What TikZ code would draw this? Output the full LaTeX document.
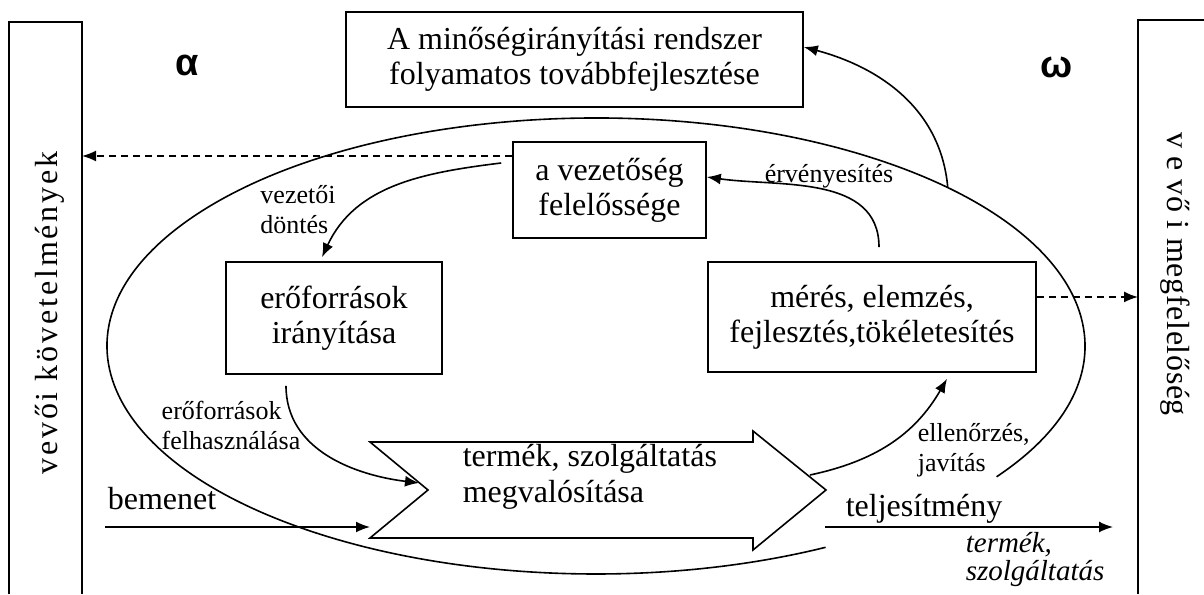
\documentclass[tikz,border=0pt]{standalone}
\usepackage{fontspec}
\setmainfont{Liberation Serif}
\newfontfamily\greekfont{Liberation Sans}
\newfontfamily\spacedfont[LetterSpace=9]{Liberation Serif}
\newfontfamily\widefont[LetterSpace=2]{Liberation Serif}
\usetikzlibrary{arrows.meta,calc}

\begin{document}
\begin{tikzpicture}[x=0.5pt, y=0.5pt, line width=0.8pt,
	>={Latex[length=7pt,width=5.5pt]},
	box/.style={draw, inner sep=0pt, align=center, font=\fontsize{16}{17.5}\selectfont},
	big/.style={inner sep=0pt, align=left, font=\fontsize{16}{18}\selectfont},
	lbl/.style={inner sep=0pt, align=left, font=\fontsize{13}{15}\selectfont},
	greek/.style={inner sep=0pt, font=\greekfont\bfseries\fontsize{19}{19}\selectfont},
	feedback/.style={->, dash pattern=on 3.5pt off 2.5pt}]

	\useasboundingbox (0,0) rectangle (1204,594);

	% side columns
	\draw (9,0) -- (9,572) -- (82,572) -- (82,0);
	\draw (1204,574) -- (1138,574) -- (1138,0);
	\node[rotate=90, inner sep=0pt, font=\spacedfont\fontsize{16}{16}\selectfont] (req) at (50,281) {vevői követelmények};
	\node[rotate=-90, inner sep=0pt, font=\widefont\fontsize{16}{16}\selectfont] (sat) at (1175,320) {v e vő i megfelelőség};
	\coordinate (reqside) at (82,438);
	\coordinate (satside) at (1138,297);

	\node[greek] (alpha) at (187,529) {α};
	\node[greek] (omega) at (1057,527) {ω};

	% boxes
	\node[box, minimum width=228.5pt, minimum height=47.5pt] (improve) at (574.5,534.5) {A minőségirányítási rendszer\\folyamatos továbbfejlesztése};
	\node[box, minimum width=96.5pt, minimum height=48pt] (mgmt) at (609.5,404) {a vezetőség\\felelőssége};
	\node[box, minimum width=108pt, minimum height=56pt] (res) at (334,276) {erőforrások\\irányítása};
	\node[box, minimum width=164pt, minimum height=55pt] (meas) at (872,277) {mérés, elemzés,\\fejlesztés,tökéletesítés};

	% product realization arrow
	\draw (370,152) -- (753,152) -- (753,163) -- (826,104) -- (753,44) -- (753,56) -- (370,56) -- (428,104) -- cycle;
	\node[big, anchor=west] (real) at (462,117) {termék, szolgáltatás\\megvalósítása};
	\coordinate (notch) at (419,111);
	\coordinate (head) at (810,119);

	% big loop
	\coordinate (ellc) at (596,248);
	\draw ($(ellc)+(-35:489 and 228)$) arc[start angle=-35, end angle=298, x radius=489, y radius=228];
	\coordinate (loopup) at ($(ellc)+(44:489 and 228)$);

	% in and out
	\coordinate (inp) at (105,67);
	\coordinate (inq) at (370,67);
	\coordinate (outp) at (825,67);
	\coordinate (outq) at (1113,67);
	\draw[->] (inp) -- (inq);
	\draw[->] (outp) -- (outq);
	\node[big, anchor=base west] (inlbl) at (107,84) {bemenet};
	\node[big, anchor=base west] (outlbl) at (845,77) {teljesítmény};
	\node[big, anchor=west, font=\fontsize{14.5}{14}\selectfont\itshape] (outwhat) at (965,34) {termék,\\szolgáltatás};

	% process arrows
	\draw[->] ($(mgmt.west)+(-11,27)$) to[out=187, in=65] ($(res.north)+(-12,4)$);
	\node[lbl] (decide) at (298,384) {vezetői\\döntés};
	\draw[->] ($(res.south)+(-48,-11)$) to[out=-90, in=173] (notch);
	\node[lbl] (use) at (231,169) {erőforrások\\felhasználása};
	\draw[->] (head) to[out=12, in=-120] ($(meas.south)+(75,-6)$);
	\node[lbl, anchor=west] (check) at (917,144) {ellenőrzés,\\javítás};
	\draw[->] ($(meas.north)+(7,14)$) to[out=90, in=-8] ($(mgmt.east)+(0,13)$);
	\node[lbl] (valid) at (829,418) {érvényesítés};
	\draw[->] (loopup) to[out=95, in=-15] ($(improve.east)+(0,12.5)$);

	% feedback to the customer
	\draw[feedback] (mgmt.west |- reqside) -- (reqside);
	\draw[feedback] (meas.east |- satside) -- (satside);
\end{tikzpicture}
\end{document}
